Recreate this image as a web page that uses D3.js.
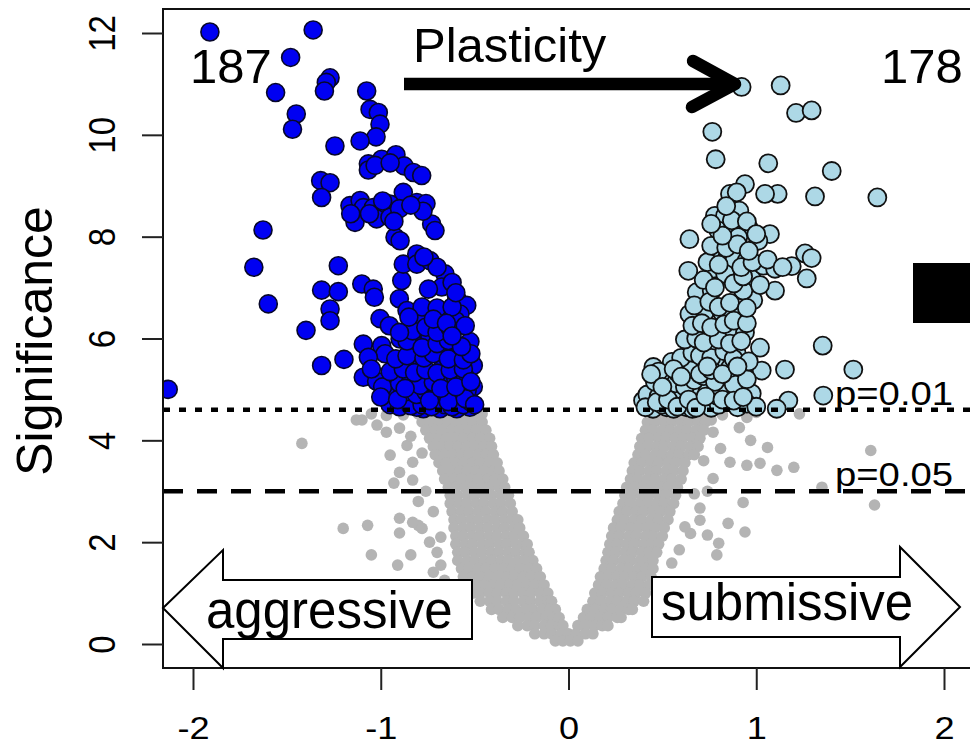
<!DOCTYPE html>
<html>
<head>
<meta charset="utf-8">
<script src="https://cdn.jsdelivr.net/npm/d3@7"></script>
<style>
  html, body { margin: 0; padding: 0; background: #fff; }
  svg { display: block; }
  text { font-family: "Liberation Sans", Arial, Helvetica, sans-serif; fill: #000; }
</style>
</head>
<body>
<svg id="chart" width="970" height="747"></svg>
<script>
// ---- axis ticks ----
const xTicks = [-2, -1, 0, 1, 2];
const yTicks = [0, 2, 4, 6, 8, 10, 12];

// ---- significance cut-offs ----
const thresholdLabels = ["p=0.01", "p=0.05"];
const thresholdValues = [4.6, 3.0];

// ---- annotation texts ----
const countAggressive = "187";
const countSubmissive = "178";
const plasticityLabel = "Plasticity";
const directionLabels = ["aggressive", "submissive"];
const yAxisTitle = "Significance";

// ---- non-significant genes: rows of [significance, [fold changes]] ----
const greyRows = [
  [4.52, [-0.80,-0.76,-0.71,-0.67,-0.62,-0.58,-0.53,-0.49,-0.46, 0.43,0.47,0.52,0.56,0.61,0.65,0.70,0.74]],
  [4.36, [-0.78,-0.73,-0.69,-0.64,-0.60,-0.55,-0.51,-0.46, 0.42,0.46,0.51,0.55,0.60,0.64,0.69,0.73]],
  [4.20, [-0.76,-0.71,-0.67,-0.62,-0.58,-0.53,-0.49,-0.44, 0.41,0.45,0.50,0.54,0.59,0.63,0.68,0.72]],
  [4.04, [-0.74,-0.69,-0.65,-0.60,-0.56,-0.51,-0.47,-0.42, 0.39,0.43,0.48,0.52,0.57,0.61,0.66,0.70]],
  [3.88, [-0.72,-0.68,-0.63,-0.59,-0.54,-0.50,-0.45,-0.41, 0.38,0.42,0.47,0.51,0.56,0.60,0.65,0.69]],
  [3.72, [-0.71,-0.66,-0.62,-0.57,-0.53,-0.48,-0.44,-0.40, 0.37,0.41,0.46,0.50,0.55,0.59,0.64,0.67]],
  [3.56, [-0.69,-0.65,-0.60,-0.56,-0.51,-0.47,-0.42,-0.38, 0.35,0.39,0.44,0.48,0.53,0.57,0.62]],
  [3.40, [-0.67,-0.63,-0.58,-0.54,-0.49,-0.45,-0.40,-0.37, 0.34,0.38,0.43,0.47,0.52,0.56,0.61]],
  [3.24, [-0.66,-0.61,-0.57,-0.52,-0.48,-0.43,-0.39,-0.35, 0.33,0.37,0.42,0.46,0.51,0.55,0.60]],
  [3.08, [-0.64,-0.60,-0.55,-0.51,-0.46,-0.42,-0.37,-0.34, 0.31,0.35,0.40,0.44,0.49,0.53,0.58]],
  [2.92, [-0.63,-0.59,-0.54,-0.50,-0.45,-0.41,-0.36,-0.32, 0.30,0.34,0.39,0.43,0.48,0.52,0.57]],
  [2.76, [-0.63,-0.58,-0.54,-0.49,-0.45,-0.40,-0.36,-0.31, 0.29,0.33,0.38,0.42,0.47,0.51,0.56]],
  [2.60, [-0.62,-0.57,-0.53,-0.48,-0.44,-0.39,-0.35,-0.30, 0.27,0.31,0.36,0.40,0.45,0.49,0.54]],
  [2.44, [-0.61,-0.57,-0.52,-0.48,-0.43,-0.39,-0.34,-0.30,-0.27, 0.26,0.30,0.35,0.39,0.44,0.48,0.53]],
  [2.28, [-0.61,-0.56,-0.52,-0.47,-0.43,-0.38,-0.34,-0.29,-0.26, 0.24,0.28,0.33,0.37,0.42,0.46,0.51]],
  [2.12, [-0.60,-0.56,-0.51,-0.47,-0.42,-0.38,-0.33,-0.29,-0.24, 0.23,0.27,0.32,0.36,0.41,0.45,0.50]],
  [1.96, [-0.60,-0.55,-0.51,-0.46,-0.42,-0.37,-0.33,-0.28,-0.24,-0.22, 0.22,0.26,0.31,0.35,0.40,0.44,0.48]],
  [1.80, [-0.59,-0.55,-0.50,-0.46,-0.41,-0.37,-0.32,-0.28,-0.23,-0.21, 0.21,0.25,0.30,0.34,0.39,0.43,0.47]],
  [1.64, [-0.59,-0.54,-0.50,-0.45,-0.41,-0.36,-0.32,-0.27,-0.23,-0.19, 0.20,0.24,0.29,0.33,0.38,0.42,0.45]],
  [1.48, [-0.57,-0.53,-0.48,-0.44,-0.39,-0.35,-0.30,-0.26,-0.21,-0.17, 0.19,0.23,0.28,0.32,0.37,0.41,0.45]],
  [1.32, [-0.56,-0.51,-0.47,-0.42,-0.38,-0.33,-0.29,-0.24,-0.20,-0.15, 0.17,0.21,0.26,0.30,0.35,0.39,0.44]],
  [1.16, [-0.54,-0.49,-0.45,-0.40,-0.36,-0.31,-0.27,-0.22,-0.18,-0.13, 0.16,0.20,0.25,0.29,0.34,0.38,0.43]],
  [1.00, [-0.51,-0.47,-0.42,-0.38,-0.33,-0.29,-0.24,-0.20,-0.15,-0.11, 0.14,0.18,0.23,0.27,0.32,0.36,0.41]],
  [0.84, [-0.47,-0.42,-0.38,-0.33,-0.29,-0.24,-0.20,-0.15,-0.11,-0.09, 0.13,0.17,0.22,0.26,0.31,0.35,0.40]],
  [0.68, [-0.41,-0.37,-0.32,-0.28,-0.23,-0.19,-0.14,-0.10,-0.07, 0.10,0.14,0.19,0.23,0.28,0.32,0.34]],
  [0.52, [-0.35,-0.30,-0.26,-0.21,-0.17,-0.12,-0.08,-0.05, 0.08,0.12,0.17,0.21,0.26,0.28]],
  [0.36, [-0.27,-0.22,-0.18,-0.13,-0.09,-0.05,-0.03, 0.05,0.09,0.14,0.18,0.21]],
  [0.20, [-0.18,-0.13,-0.09,-0.04,0.00,0.04,0.09,0.13]],
  [0.06, [-0.07,-0.03,0.01,0.05]]
];

// scattered non-significant genes away from the main cloud: [fold change, significance]
const greyOutliers = [
  [-1.42,3.94],[-1.20,2.27],[-1.07,2.33],[-1.05,1.75],[-0.90,2.47],[-0.90,2.18],[-0.91,1.55],
  [-0.84,1.75],[-0.80,2.33],[-0.95,3.71],[-0.90,3.37],[-0.93,3.16],[-0.83,3.22],[-0.83,2.39],
  [-0.78,2.27],[-0.74,2.00],[-0.70,1.80],[-0.72,1.41],[-0.97,4.16],[-0.90,4.24],[-0.86,3.90],
  [-0.97,4.49],[-0.83,3.57],[-1.10,4.40],[-1.02,4.30],[-0.78,3.75],[-0.76,3.00],[-0.72,2.60],
  [-0.68,1.55],[-0.66,1.25],[-1.13,4.40],[-1.05,4.52],[-0.88,4.50],[-0.84,4.08],[-0.80,2.80],
  [-0.68,2.10],
  [1.23,4.52],[1.06,3.86],[1.61,3.80],[0.97,4.00],[1.11,3.41],[1.20,3.47],[1.02,3.55],
  [1.35,3.08],[0.95,4.45],[0.91,4.25],[1.63,2.73],[0.94,2.20],[0.85,2.37],[0.80,1.98],
  [0.79,1.75],[0.70,2.43],[0.65,2.17],[0.59,1.85],[0.55,1.59],[0.77,4.16],[0.86,3.57],
  [0.95,3.51],[0.77,3.25],[0.93,2.78],[0.74,2.14],[0.70,2.67],[0.81,3.84],[1.00,4.55],
  [0.74,3.00],[0.76,4.40],[0.82,4.50],[0.72,3.60],[0.67,2.95],[0.62,2.30]
];

// significant genes higher in aggressive animals: [fold change, significance]
const aggressiveGenes = [
  [-1.91,12.02],[-1.36,12.06],[-1.48,11.52],[-1.56,10.83],[-1.27,11.12],[-1.29,11.03],[-1.30,10.86],
  [-1.075,10.86],[-1.45,10.41],[-1.47,10.11],[-1.057,10.50],[-1.013,10.44],[-1.004,10.21],[-1.025,9.96],
  [-1.11,9.88],[-1.244,9.78],[-1.066,9.43],[-1.066,9.31],[-0.995,9.52],[-0.919,9.61],[-0.876,9.39],
  [-0.826,9.26],[-0.782,9.20],[-1.32,9.10],[-1.27,9.06],[-1.315,8.77],[-0.88,8.87],[-0.808,8.67],
  [-0.759,8.65],[-1.164,8.61],[-1.11,8.71],[-1.093,8.57],[-1.04,8.57],[-0.987,8.51],[-0.951,8.64],
  [-0.936,8.45],[-1.137,8.28],[-1.022,8.35],[-1.627,8.13],[-0.729,8.25],
  [-1.676,7.40],[-1.599,6.68],[-1.226,7.43],[-1.315,6.95],[-1.226,6.92],[-1.27,6.58],[-1.27,6.35],
  [-1.398,6.16],[-1.315,5.47],[-1.196,5.59],[-2.132,5.00],[-1.101,7.07],[-1.04,6.97],[-1.034,6.81],
  [-0.901,6.78],[-0.888,7.14],[-0.88,7.46],[-0.808,7.66],[-0.808,7.46],[-0.738,7.53],[-0.658,7.27],
  [-0.675,7.01],[-0.746,6.97],[-0.595,6.78],[-0.542,6.65],[-0.578,6.48],[-0.658,6.48],[-0.755,6.45],
  [-0.808,6.35],[-1.004,6.39],[-0.954,6.25],[-1.093,5.89],[-0.995,5.86],[-0.977,5.70],[-1.066,5.63],
  [-0.897,5.99],[-0.80,5.86],[-0.738,6.03],[-0.675,5.76],[-0.605,5.76],[-0.525,5.94],[-0.507,5.47],
  [-0.808,5.50],[-0.667,5.47],[-0.605,5.60],[-1.093,5.24],[-1.022,5.16],[-0.924,5.24],[-0.755,5.21],
  [-0.614,5.18],[-0.507,5.05],[-0.96,4.78],[-0.862,4.72],[-0.773,4.62],[-0.684,4.82],[-0.595,4.62],
  [-0.578,4.88],[-0.808,4.65],[-0.684,4.62],[-0.525,4.65],
  [-0.951,8.38],[-0.924,7.99],[-0.897,7.92],[-0.711,8.12],[-0.775,8.50],
  [-0.95,4.70],[-0.90,4.66],[-0.84,4.68],[-0.78,4.70],[-0.73,4.66],[-0.66,4.70],[-0.62,4.66],
  [-0.56,4.70],[-0.52,4.75],[-0.93,4.92],[-0.87,4.95],[-0.81,4.90],[-0.76,4.96],[-0.70,4.93],
  [-0.64,4.97],[-0.58,4.92],[-0.54,4.98],[-0.99,5.05],[-0.90,5.12],[-0.84,5.15],[-0.79,5.08],
  [-0.72,5.14],[-0.66,5.10],[-0.60,5.20],[-0.55,5.25],[-1.05,5.40],[-0.95,5.35],[-0.88,5.40],
  [-0.82,5.33],[-0.76,5.38],[-0.70,5.32],[-0.63,5.38],[-0.56,5.40],[-0.92,5.60],[-0.86,5.66],
  [-0.77,5.62],[-0.72,5.70],[-0.64,5.60],[-0.56,5.58],[-0.52,5.70],[-0.86,5.95],[-0.78,5.82],
  [-0.70,5.90],[-0.64,5.96],[-0.57,5.84],[-0.83,6.15],[-0.76,6.22],[-0.70,6.12],[-0.63,6.20],
  [-0.60,6.35],[-0.86,6.55],[-0.78,6.62],[-0.70,6.60],[-0.62,6.62],[-0.72,6.38],[-0.65,6.30],
  [-0.55,6.25],[-0.85,6.42],[-0.90,6.12],[-0.62,6.05],[-1.00,4.85],[-0.91,4.80],[-0.74,4.78],
  [-0.64,4.76],[-0.55,4.82],[-0.50,4.70],[-0.87,5.02],[-0.68,5.02],[-0.60,5.05],[-0.52,5.15],
  [-0.70,7.40],[-0.62,7.10],[-0.60,6.90],[-0.77,7.60],[-1.06,8.45],[-0.99,8.70],[-0.90,8.55],
  [-1.16,8.45],[-0.84,8.62],[-0.93,8.30],[-1.03,9.40],[-0.95,9.45]
];

// significant genes higher in submissive animals: [fold change, significance]
const submissiveGenes = [
  [0.922,10.94],[1.13,10.97],[1.212,10.43],[1.295,10.48],[0.766,10.06],[0.784,9.52],[1.064,9.44],
  [1.402,9.29],[1.645,8.77],[1.313,8.79],[1.114,8.84],[1.047,8.84],[0.94,9.03],[0.86,8.84],
  [0.896,8.87],[0.78,8.41],[0.834,8.41],[0.91,8.51],[0.798,8.12],[0.878,8.22],[0.958,8.18],
  [1.073,8.05],[1.011,7.92],[0.904,7.99],[0.644,7.95],[0.78,7.66],[0.843,7.56],[0.883,7.53],
  [0.949,7.53],[0.771,7.37],[0.834,7.27],[0.976,7.17],[1.038,7.43],[1.10,7.37],[1.189,7.42],
  [1.26,7.67],[1.295,7.58],[1.269,7.18],[0.638,7.33],[1.10,6.94],[0.984,6.75],[0.931,6.94],
  [0.683,6.91],[0.763,6.94],[0.644,6.48],[0.727,6.52],[0.816,6.52],[0.913,6.45],[0.683,6.12],
  [0.78,6.09],[0.86,6.09],[0.94,6.12],[0.647,5.86],[0.78,5.83],[0.896,5.70],[1.02,5.82],
  [1.354,5.86],[0.452,5.44],[0.55,5.54],[0.638,5.47],[0.727,5.54],[0.816,5.47],[0.922,5.37],
  [1.029,5.37],[1.153,5.39],[1.517,5.39],[0.505,5.05],[0.63,5.21],[0.736,5.08],[0.843,5.21],
  [0.976,4.92],[1.171,4.78],[1.357,4.88],[1.109,4.62],[0.434,4.72],[0.523,4.65],[0.63,4.65],
  [0.736,4.78],[0.86,4.75],[0.397,4.78],
  [0.45,4.62],[0.50,4.70],[0.56,4.62],[0.60,4.72],[0.66,4.62],[0.70,4.70],[0.76,4.64],
  [0.80,4.70],[0.90,4.65],[0.95,4.72],[1.00,4.66],[0.42,4.90],[0.48,4.86],[0.54,4.95],
  [0.59,4.88],[0.64,4.98],[0.69,4.90],[0.74,4.96],[0.79,4.88],[0.85,4.98],[0.90,4.90],
  [0.46,5.15],[0.52,5.22],[0.57,5.12],[0.62,5.05],[0.67,5.18],[0.72,5.26],[0.78,5.15],
  [0.88,5.10],[0.95,5.20],[0.48,5.35],[0.58,5.33],[0.66,5.40],[0.70,5.30],[0.76,5.38],
  [0.86,5.42],[0.60,5.62],[0.66,5.72],[0.70,5.66],[0.76,5.62],[0.83,5.75],[0.88,5.60],
  [0.96,5.55],[0.62,5.98],[0.68,6.00],[0.72,5.92],[0.80,5.98],[0.86,5.90],[0.92,5.95],
  [0.66,6.25],[0.71,6.30],[0.76,6.22],[0.83,6.28],[0.88,6.35],[0.95,6.30],[0.67,6.65],
  [0.75,6.72],[0.80,6.62],[0.86,6.70],[0.95,6.60],[0.72,7.15],[0.78,7.00],[0.88,7.08],
  [0.93,7.22],[1.02,7.05],[0.74,7.50],[0.80,7.45],[0.92,7.40],[0.98,7.50],[1.06,7.55],
  [1.14,7.40],[0.76,7.82],[0.84,7.78],[0.90,7.85],[0.96,7.72],[0.82,8.02],[0.87,8.32],
  [0.76,8.25],[0.95,8.30],[1.00,8.05],[0.84,8.60],[0.41,4.65],[0.47,4.75],[0.53,4.80],
  [0.58,4.66],[0.64,4.80],[0.68,4.64],[0.73,4.86],[0.82,4.80],[0.88,4.78],[0.93,4.85],
  [0.44,5.30],[0.50,5.05],[0.56,5.40],[0.60,5.25],[0.74,5.45],[0.82,5.30],[0.90,5.45]
];

// ---- layout ----
const W = 970, H = 747;
const plot = { left: 163, top: 9, right: 990, bottom: 668 };

const x = d3.scaleLinear().domain([-2, 2]).range([193, 944]);
const y = d3.scaleLinear().domain([0, 12]).range([644, 33]);

const svg = d3.select("#chart").attr("viewBox", `0 0 ${W} ${H}`);

svg.append("defs").append("clipPath").attr("id", "plot-clip")
  .append("rect")
  .attr("x", plot.left).attr("y", plot.top)
  .attr("width", plot.right - plot.left).attr("height", plot.bottom - plot.top);

const points = svg.append("g").attr("clip-path", "url(#plot-clip)");

// non-significant cloud
const greyPoints = greyRows.flatMap(([sig, fcs]) => fcs.map(fc => [fc, sig])).concat(greyOutliers);
points.append("g").selectAll("circle")
  .data(greyPoints).join("circle")
  .attr("cx", d => x(d[0])).attr("cy", d => y(d[1]))
  .attr("r", 5.8)
  .attr("fill", "#b4b4b4");

// significant genes
points.append("g").selectAll("circle")
  .data(aggressiveGenes).join("circle")
  .attr("cx", d => x(d[0])).attr("cy", d => y(d[1]))
  .attr("r", 9)
  .attr("fill", "#0000f2")
  .attr("stroke", "#07072a")
  .attr("stroke-width", 1.6);

points.append("g").selectAll("circle")
  .data(submissiveGenes).join("circle")
  .attr("cx", d => x(d[0])).attr("cy", d => y(d[1]))
  .attr("r", 9)
  .attr("fill", "#add8e6")
  .attr("stroke", "#111")
  .attr("stroke-width", 1.8);

// cut-off lines
const cutoffDash = ["7,9", "20,14"];
svg.append("g").selectAll("line")
  .data(thresholdValues).join("line")
  .attr("x1", plot.left).attr("x2", W)
  .attr("y1", d => y(d)).attr("y2", d => y(d))
  .attr("stroke", "#000")
  .attr("stroke-width", 4.5)
  .attr("stroke-dasharray", (d, i) => cutoffDash[i]);

// plot frame
svg.append("rect")
  .attr("x", plot.left).attr("y", plot.top)
  .attr("width", plot.right - plot.left).attr("height", plot.bottom - plot.top)
  .attr("fill", "none").attr("stroke", "#111").attr("stroke-width", 2);

// axes
const yAxis = svg.append("g")
  .attr("transform", `translate(${plot.left},0)`)
  .call(d3.axisLeft(y).tickValues(yTicks).tickSize(21).tickSizeOuter(0).tickFormat(d => String(d)));
yAxis.select(".domain").remove();
yAxis.selectAll(".tick line").attr("stroke", "#222").attr("stroke-width", 2);
yAxis.selectAll(".tick text")
  .attr("x", null).attr("dy", null)
  .attr("text-anchor", "middle")
  .attr("font-size", 33)
  .attr("transform", "translate(-48,0) scale(1.12,1) rotate(-90)");

const xAxis = svg.append("g")
  .attr("transform", `translate(0,${plot.bottom})`)
  .call(d3.axisBottom(x).tickValues(xTicks).tickSize(22).tickSizeOuter(0).tickFormat(d => String(d)));
xAxis.select(".domain").remove();
xAxis.selectAll(".tick line").attr("stroke", "#222").attr("stroke-width", 2);
xAxis.selectAll(".tick text")
  .attr("y", 71).attr("dy", null)
  .attr("text-anchor", "middle")
  .attr("font-size", 32)
  .attr("transform", "scale(1.13,1)");

svg.append("text")
  .attr("transform", "translate(52,341) rotate(-90)")
  .attr("text-anchor", "middle")
  .attr("font-size", 50)
  .text(yAxisTitle);

// cut-off labels
svg.append("g").selectAll("text")
  .data(thresholdValues).join("text")
  .attr("transform", d => `translate(835,${y(d) - 5}) scale(1.16,1)`)
  .attr("font-size", 33)
  .text((d, i) => thresholdLabels[i]);

// counts of significant genes
svg.append("text").attr("x", 190).attr("y", 83).attr("font-size", 49).text(countAggressive);
svg.append("text").attr("x", 881).attr("y", 83).attr("font-size", 49).text(countSubmissive);

// plasticity arrow pointing at the top submissive gene
svg.append("text").attr("x", 413).attr("y", 62).attr("font-size", 49).text(plasticityLabel);
svg.append("line")
  .attr("x1", 404).attr("x2", 733).attr("y1", 84).attr("y2", 84)
  .attr("stroke", "#000").attr("stroke-width", 12.5);
svg.append("path")
  .attr("d", "M693,61 L735,84 L692,107")
  .attr("fill", "none").attr("stroke", "#000").attr("stroke-width", 12.5)
  .attr("stroke-linecap", "round").attr("stroke-linejoin", "round");

// filled block at the right edge
svg.append("rect").attr("x", 913).attr("y", 263).attr("width", 70).attr("height", 60).attr("fill", "#000");

// direction arrows
svg.append("path")
  .attr("d", "M163,608 L223,550 L223,580 L472,580 L472,639 L223,639 L223,668 Z")
  .attr("fill", "#fff").attr("stroke", "#000").attr("stroke-width", 2);
svg.append("path")
  .attr("d", "M652,577 L900,577 L900,547 L960,607 L900,667 L900,637 L652,637 Z")
  .attr("fill", "#fff").attr("stroke", "#000").attr("stroke-width", 2);
svg.append("text").attr("x", 206).attr("y", 628).attr("font-size", 51).text(directionLabels[0]);
svg.append("text").attr("x", 661).attr("y", 620).attr("font-size", 51).text(directionLabels[1]);
</script>
</body>
</html>
